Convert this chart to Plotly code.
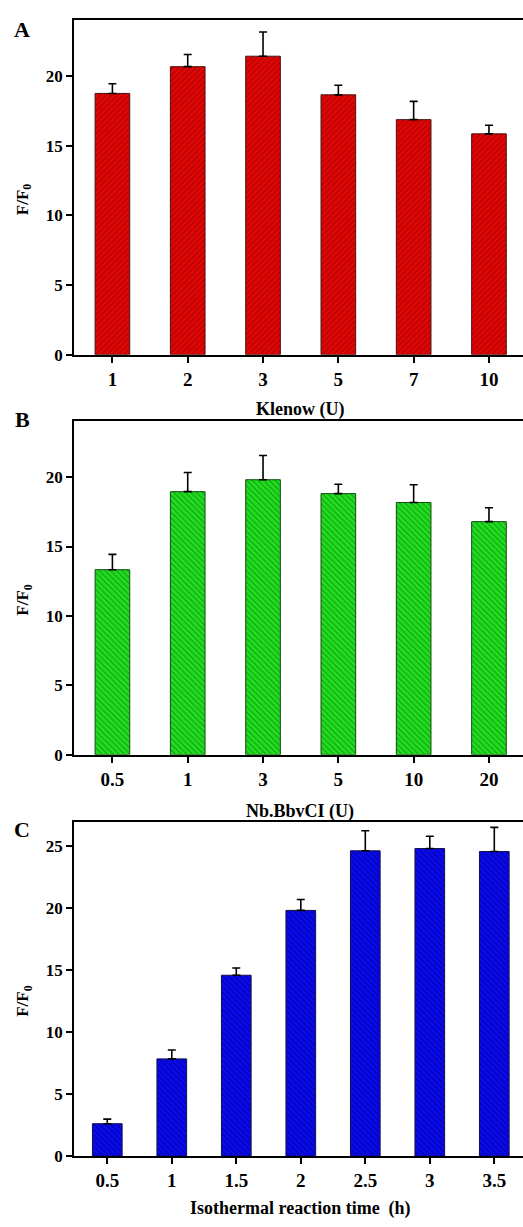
import plotly.graph_objects as go

# ---- data ----
klenow_labels = ["1", "2", "3", "5", "7", "10"]
klenow_vals = [18.75, 20.67, 21.42, 18.65, 16.87, 15.85]
klenow_err = [0.70, 0.87, 1.74, 0.69, 1.31, 0.62]

nb_labels = ["0.5", "1", "3", "5", "10", "20"]
nb_vals = [13.33, 18.95, 19.81, 18.81, 18.17, 16.79]
nb_err = [1.10, 1.38, 1.74, 0.67, 1.28, 1.00]

time_labels = ["0.5", "1", "1.5", "2", "2.5", "3", "3.5"]
time_vals = [2.62, 7.85, 14.60, 19.83, 24.64, 24.82, 24.58]
time_err = [0.37, 0.72, 0.59, 0.88, 1.62, 0.99, 1.95]

# the original figure is cropped on the right: its plot box runs to x~527
W, H = 527, 1227
ML = 74
PW = W - ML
FONT = "Liberation Serif"


def px_x(px):
    return (px - ML) / PW


def px_y(py):
    return 1 - py / H


fig = go.Figure()

panels = [
    dict(labels=klenow_labels, vals=klenow_vals, err=klenow_err,
         color="#E00606", fg="#A80000", edge="#4a1010", shape="/",
         top=20, bottom=357.7, ymax=24.03, yticks=[0, 5, 10, 15, 20],
         xr=[-0.51, 5.505], title="Klenow (U)", title_y=412.7,
         letter="A", letter_y=30),
    dict(labels=nb_labels, vals=nb_vals, err=nb_err,
         color="#22DD22", fg="#0E9A0E", edge="#104a10", shape="\\",
         top=424.3, bottom=761, ymax=24.05, yticks=[0, 5, 10, 15, 20],
         xr=[-0.51, 5.505], title="Nb.BbvCI (U)", title_y=818,
         letter="B", letter_y=423),
    dict(labels=time_labels, vals=time_vals, err=time_err,
         color="#0A0AEE", fg="#00009A", edge="#10104a", shape="\\",
         top=828.3, bottom=1165.7, ymax=27.0, yticks=[0, 5, 10, 15, 20, 25],
         xr=[-0.516, 6.507], title="Isothermal reaction time  (h)", title_y=1218,
         letter="C", letter_y=836),
]

annotations = []
for i, p in enumerate(panels, start=1):
    xs = list(range(len(p["labels"])))
    sfx = "" if i == 1 else str(i)
    fig.add_trace(go.Bar(
        x=xs, y=p["vals"], width=0.46,
        marker=dict(color=p["color"],
                    line=dict(color=p["edge"], width=1),
                    pattern=dict(shape=p["shape"], fgcolor=p["fg"], bgcolor=p["color"],
                                 size=4, solidity=0.25, fillmode="replace")),
        error_y=dict(type="data", symmetric=False, array=p["err"],
                     arrayminus=[0] * len(p["err"]),
                     color="black", thickness=1.6, width=4),
        xaxis="x" + sfx, yaxis="y" + sfx, showlegend=False,
    ))
    dom = [px_y(p["bottom"]), px_y(p["top"])]
    fig.layout["xaxis" + sfx] = dict(
        domain=[0, 1], anchor="y" + sfx, range=p["xr"],
        tickmode="array", tickvals=xs, ticktext=p["labels"],
        showline=True, linecolor="black", linewidth=2, mirror=True,
        ticks="outside", ticklen=6, tickwidth=1.6, tickcolor="black",
        tickfont=dict(family=FONT, size=19, color="black", weight="bold"),
        showgrid=False, zeroline=False,
    )
    fig.layout["yaxis" + sfx] = dict(
        domain=dom, anchor="x" + sfx, range=[0, p["ymax"]],
        tickmode="array", tickvals=p["yticks"],
        showline=True, linecolor="black", linewidth=1.6, mirror=False,
        ticks="outside", ticklen=6, tickwidth=1.6, tickcolor="black",
        tickfont=dict(family=FONT, size=17, color="black", weight="bold"),
        showgrid=False, zeroline=False,
    )
    annotations.append(dict(
        text="<b>" + p["title"] + "</b>", xref="paper", yref="paper",
        x=px_x(300), y=px_y(p["title_y"]), xanchor="center", yanchor="middle",
        showarrow=False, font=dict(family=FONT, size=18, color="black")))
    annotations.append(dict(
        text="<b>" + p["letter"] + "</b>", xref="paper", yref="paper",
        x=px_x(22), y=px_y(p["letter_y"]), xanchor="center", yanchor="middle",
        showarrow=False, font=dict(family=FONT, size=22, color="black")))
    annotations.append(dict(
        text="<b>F/F<sub>0</sub></b>", xref="paper", yref="paper",
        x=px_x(24), y=px_y((p["top"] + p["bottom"]) / 2 + 12),
        xanchor="center", yanchor="middle", textangle=-90,
        showarrow=False, font=dict(family=FONT, size=17, color="black")))

fig.update_layout(
    width=W, height=H,
    margin=dict(l=ML, r=0, t=0, b=0),
    paper_bgcolor="white", plot_bgcolor="white",
    annotations=annotations,
)

fig.write_html("out.html",
               config={"displayModeBar": False},
               post_script="document.body.style.margin='0px';document.body.style.overflow='hidden';")
